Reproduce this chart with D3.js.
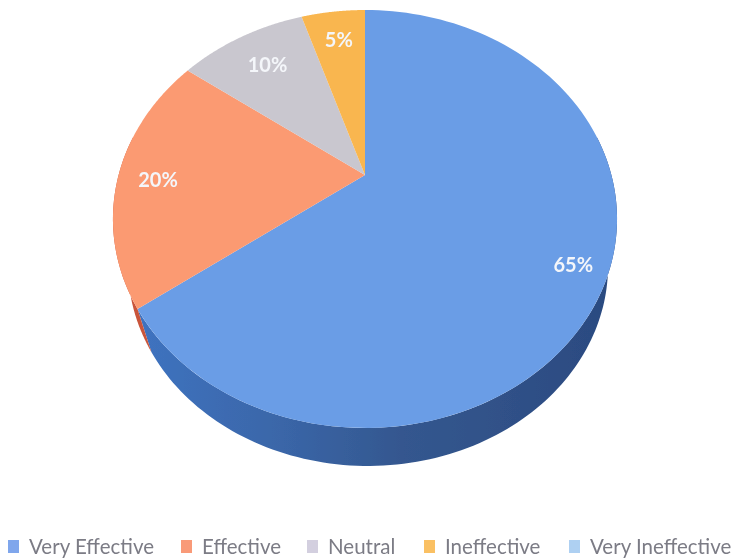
<!DOCTYPE html>
<html><head><meta charset="utf-8">
<script src="https://cdn.jsdelivr.net/npm/d3@7"></script>
<style>html,body{margin:0;background:#fff}svg{display:block}text{font-family:Lato,"Open Sans",sans-serif}</style>
</head><body><svg id="c" width="732" height="560"></svg>
<script>
const categories=["Very Effective","Effective","Neutral","Ineffective","Very Ineffective"];
const values=[65,20,10,5,0];
const labels=["65%","20%","10%","5%",""];
const topColors=["#6a9de6","#fb9a72","#c9c7cf","#f9b64f","#a9cdf0"];
const sideColors=["#3d6cb2","#c9553a","#9c9aa3","#c98f30","#7fa5cc"];
const legendColors=["#7fa6ec","#f99a78","#d3cfdf","#fac064","#aed0f2"];

const legendX=[29,202,328,445,590];
const svg=d3.select("#c");
const defs=svg.append("defs");
const f=defs.append("filter").attr("id","soft");
f.append("feGaussianBlur").attr("stdDeviation",0.7);
const sg=defs.append("linearGradient").attr("id","side").attr("x1",0).attr("x2",1).attr("y1",0).attr("y2",0);
sg.append("stop").attr("offset",0).attr("stop-color","#3f73c0");
sg.append("stop").attr("offset",0.3).attr("stop-color","#3a66a8");
sg.append("stop").attr("offset",0.55).attr("stop-color","#34578f");
sg.append("stop").attr("offset",1).attr("stop-color","#2b4a80");

const pie=d3.pie().sort(null).value(d=>d)(values);
// perspective disc: apex seen at (cx,cy), top ellipse centre (topCy), wall foot is a smaller ellipse
const cx=365,cy=175,Rx=246.4,Ry=199.7,k=-0.2105;
const topCy=219,topRx=252,topRy=209,footCx=368,footCy=266,footRx=240,footRy=200;
const project=(a,r=1)=>{const u=r*Math.sin(a),v=-r*Math.cos(a),w=1+k*v;return [cx+Rx*u/w,cy+Ry*v/w];};
const foot=([x,y])=>[footCx+(x-cx)*footRx/topRx,footCy+(y-topCy)*footRy/topRy];
const line=d3.line();
const arcPts=(a0,a1,r=1)=>d3.range(0,121).map(i=>project(a0+(a1-a0)*i/120,r));
const g=svg.append("g").attr("filter","url(#soft)");

// wall: only the part of each slice facing the viewer
const visible=[Math.PI/2-0.2,Math.PI*1.5+0.2];
pie.forEach((p,i)=>{
  const a0=Math.max(p.startAngle,visible[0]),a1=Math.min(p.endAngle,visible[1]);
  if(a1<=a0)return;
  const t=arcPts(a0,a1),b=t.slice().reverse().map(foot);
  g.append("path").attr("d",line(t.concat(b))+"Z")
   .attr("fill",i===0?"url(#side)":sideColors[i]);
});
// top face
pie.forEach((p,i)=>{
  if(p.endAngle-p.startAngle<=0)return;
  g.append("path").attr("d",line([[cx,cy]].concat(arcPts(p.startAngle,p.endAngle)))+"Z")
   .attr("fill",topColors[i]);
});
// labels
const labelR=[0.87,0.84,0.76,0.79];
const labelDy=[6,7,1,1];
pie.forEach((p,i)=>{
  if(!labels[i])return;
  const [x,y]=project((p.startAngle+p.endAngle)/2,labelR[i]);
  g.append("text").attr("x",x).attr("y",y+labelDy[i]).attr("text-anchor","middle").attr("dominant-baseline","middle")
   .attr("fill","#f4f6fa").attr("font-size",20).attr("font-weight",700).text(labels[i]);
});
// legend
const lg=g.append("g").selectAll("g").data(categories).join("g").attr("transform",(d,i)=>`translate(${legendX[i]},0)`);
lg.append("rect").attr("x",-21).attr("y",540).attr("width",11).attr("height",13).attr("fill",(d,i)=>legendColors[i]);
lg.append("text").attr("x",0).attr("y",554).attr("font-size",20.5).attr("fill","#7b7b85").text(d=>d);
</script></body></html>
